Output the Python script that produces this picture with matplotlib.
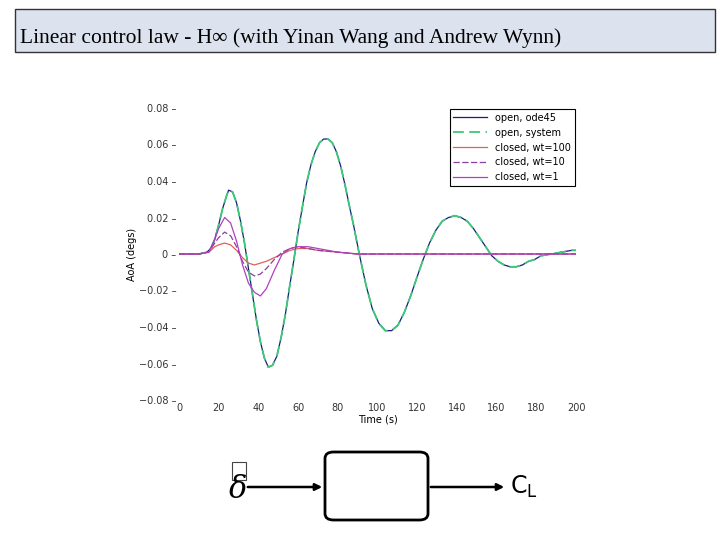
import matplotlib
matplotlib.use("Agg")
import matplotlib.pyplot as plt
from matplotlib.patches import FancyBboxPatch, Rectangle

t_open = [0,10,14,16,18,20,22,24,25,27,29,31,33,35,37,39,41,43,45,47.1,49.3,51.4,53.6,55.7,57.9,60,62.2,64.3,66.5,68.6,70.8,72.9,75.1,77.2,79.3,81.5,83.6,85.7,87.9,91,94.2,97.4,100.7,103.9,107.1,110.3,113.5,116.7,119.8,123,126.2,129.4,132.6,135.8,139,142.1,145.2,148.3,151.4,154.5,157.6,160.7,163.8,166.8,169.9,173,176.1,179.2,182.3,187.5,192.6,197.8,200]
aoa_open = [0,0,0.001,0.003,0.008,0.016,0.025,0.032,0.035,0.034,0.028,0.018,0.006,-0.008,-0.022,-0.036,-0.048,-0.057,-0.062,-0.061,-0.056,-0.046,-0.033,-0.018,-0.003,0.012,0.026,0.039,0.049,0.056,0.061,0.063,0.063,0.061,0.056,0.048,0.038,0.027,0.016,-0.001,-0.017,-0.030,-0.038,-0.042,-0.042,-0.039,-0.032,-0.023,-0.013,-0.003,0.006,0.013,0.018,0.020,0.021,0.020,0.018,0.014,0.009,0.004,-0.001,-0.004,-0.006,-0.007,-0.007,-0.006,-0.004,-0.003,-0.001,0.000,0.001,0.002,0.002]
t_cl = [0,10,15,18,20,23,26,29,32,35,38,41,44,48,52,56,60,65,70,80,90,100,120,150,200]
aoa_wt100 = [0,0,0.001,0.004,0.005,0.006,0.005,0.002,-0.002,-0.005,-0.006,-0.005,-0.004,-0.002,0.000,0.002,0.003,0.003,0.002,0.001,0.000,0.000,0,0,0]
aoa_wt10 = [0,0,0.001,0.006,0.009,0.012,0.010,0.004,-0.004,-0.010,-0.012,-0.011,-0.008,-0.003,0.001,0.003,0.004,0.003,0.002,0.001,0.000,0.000,0,0,0]
aoa_wt1 = [0,0,0.001,0.008,0.014,0.020,0.017,0.007,-0.006,-0.016,-0.021,-0.023,-0.019,-0.009,0.000,0.003,0.004,0.004,0.003,0.001,0.000,0.000,0,0,0]
yticks = [0.08,0.06,0.04,0.02,0,-0.02,-0.04,-0.06,-0.08]
xticks = [0,20,40,60,80,100,120,140,160,180,200]

fig = plt.figure(figsize=(7.2,5.4), dpi=100)
fig.patches.append(Rectangle((15/720,1-52/540),700/720,43/540, transform=fig.transFigure,
                             facecolor="#dce3ee", edgecolor="#333333", lw=1))
fig.text(20/720,1-38/540,"Linear control law - H∞ (with Yinan Wang and Andrew Wynn)",
         family="Liberation Serif", fontsize=15.5, va="center")

ax = fig.add_axes([179/720, 140/540, 397/720, 292/540])
ax.plot(t_open, aoa_open, color="#1a1a80", lw=0.9, label="open, ode45")
ax.plot(t_open, aoa_open, color="#3ec97a", lw=1.3, ls=(0,(6,3)), label="open, system")
ax.plot(t_cl, aoa_wt100, color="#e0605a", lw=0.9, label="closed, wt=100")
ax.plot(t_cl, aoa_wt10, color="#8a3fa0", lw=0.9, ls=(0,(5,2)), label="closed, wt=10")
ax.plot(t_cl, aoa_wt1, color="#b040c0", lw=0.9, label="closed, wt=1")
ax.set_xlim(0,200); ax.set_ylim(-0.08,0.08)
for s in ax.spines.values(): s.set_visible(False)
ax.set_yticks(yticks)
ax.set_yticklabels([("0" if v==0 else f"{v:.2f}".replace("-","\u2212"))+" \u2013" for v in yticks])
ax.set_xticks(xticks)
ax.tick_params(length=0, labelsize=7, colors="#333333", pad=2)
ax.set_xlabel("Time (s)", fontsize=7, labelpad=1)
ax.set_ylabel("AoA (degs)", fontsize=7, labelpad=1)
leg = ax.legend(loc="upper right", fontsize=7, frameon=True, fancybox=False,
                edgecolor="black", framealpha=1, handlelength=3.5, borderaxespad=0.1)
leg.get_frame().set_linewidth(0.8)

fig.patches.append(FancyBboxPatch((325/720,1-520/540),103/720,68/540,
    boxstyle="round,pad=0,rounding_size=0.012", transform=fig.transFigure,
    facecolor="white", edgecolor="black", lw=2))
fig.text(238/720,1-489/540,"δ",family="DejaVu Serif",style="italic",fontsize=22,va="center",ha="center")
fig.patches.append(Rectangle((232/720,1-480/540),14/720,18/540,transform=fig.transFigure,
    fill=False, edgecolor="#444444", lw=0.8))
ax2 = fig.add_axes([0,0,1,1]); ax2.axis("off"); ax2.set_xlim(0,720); ax2.set_ylim(540,0)
ax2.annotate("",xy=(325,487),xytext=(245,487),arrowprops=dict(arrowstyle="-|>",lw=1.8,color="black"))
ax2.annotate("",xy=(507,487),xytext=(428,487),arrowprops=dict(arrowstyle="-|>",lw=1.8,color="black"))
ax2.text(510,487,"C$_\\mathregular{L}$",fontsize=17,va="center",family="DejaVu Sans")
fig.savefig("out.png")
